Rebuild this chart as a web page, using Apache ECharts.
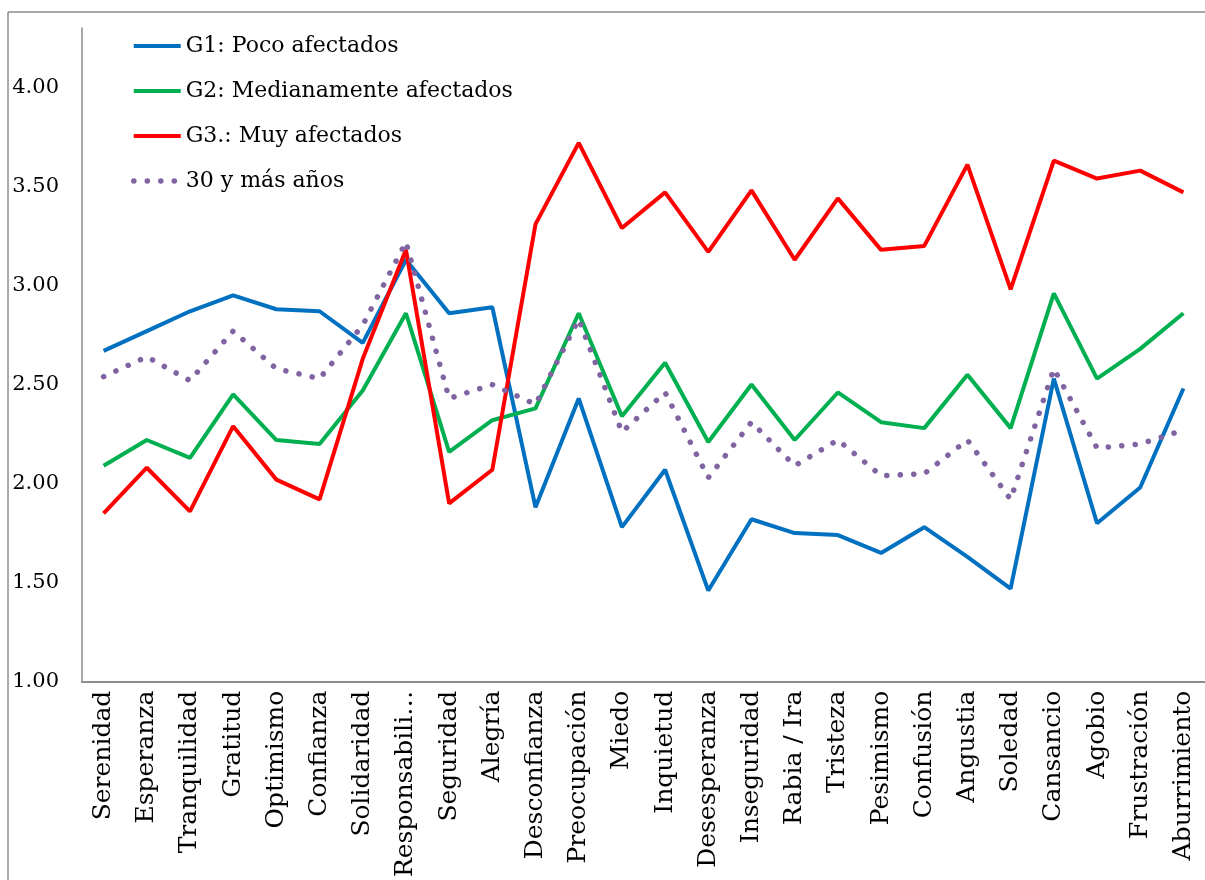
<!DOCTYPE html>
<html>
<head>
<meta charset="utf-8">
<script src="https://cdn.jsdelivr.net/npm/echarts@6/dist/echarts.min.js"></script>
<style>
html,body{margin:0;padding:0;background:#fff;overflow:hidden;}
#chart{width:1205px;height:880px;}
</style>
</head>
<body>
<div id="chart"></div>
<script>
const categories = ["Serenidad","Esperanza","Tranquilidad","Gratitud","Optimismo","Confianza","Solidaridad","Responsabilidad","Seguridad","Alegría","Desconfianza","Preocupación","Miedo","Inquietud","Desesperanza","Inseguridad","Rabia / Ira","Tristeza","Pesimismo","Confusión","Angustia","Soledad","Cansancio","Agobio","Frustración","Aburrimiento"];
const g1 = [2.67,2.77,2.87,2.95,2.88,2.87,2.71,3.13,2.86,2.89,1.88,2.43,1.78,2.07,1.46,1.82,1.75,1.74,1.65,1.78,1.63,1.47,2.53,1.80,1.98,2.48];
const g2 = [2.09,2.22,2.13,2.45,2.22,2.20,2.47,2.86,2.16,2.32,2.38,2.86,2.34,2.61,2.21,2.50,2.22,2.46,2.31,2.28,2.55,2.28,2.96,2.53,2.68,2.86];
const g3 = [1.85,2.08,1.86,2.29,2.02,1.92,2.63,3.18,1.90,2.07,3.31,3.72,3.29,3.47,3.17,3.48,3.13,3.44,3.18,3.20,3.61,2.98,3.63,3.54,3.58,3.47];
const mas30 = [2.54,2.64,2.52,2.77,2.58,2.53,2.80,3.22,2.43,2.50,2.40,2.83,2.26,2.46,2.03,2.31,2.09,2.22,2.04,2.05,2.22,1.92,2.58,2.18,2.20,2.27];
const seriesNames = ["G1: Poco afectados","G2: Medianamente afectados","G3.: Muy afectados","30 y más años"];

const FONT = '"DejaVu Serif", "Liberation Serif", serif';
const chart = echarts.init(document.getElementById('chart'), null, {renderer:'canvas'});
chart.setOption({
  backgroundColor:'#fff',
  animation:false,
  graphic:[
    {type:'line', z:-10, silent:true, shape:{x1:8,y1:12,x2:8,y2:900}, style:{stroke:'#8c8c8c', lineWidth:1.5}},
    {type:'line', z:-10, silent:true, shape:{x1:8,y1:12,x2:1220,y2:12}, style:{stroke:'#8c8c8c', lineWidth:1.5}},
    {type:'rect', z:100, silent:true, shape:{x:1196,y:13,width:12,height:668}, style:{fill:'#fff'}}
  ],
  grid:{show:false, left:82, right:0, top:28, bottom:197, containLabel:false},
  legend:{
    orient:'vertical', left:126, top:30,
    itemWidth:47, itemHeight:14, itemGap:23, itemTextGap:1,
    itemStyle:{opacity:0, borderWidth:0},
    lineStyle:{width:'inherit', type:'inherit', cap:'inherit'},
    textStyle:{fontFamily:FONT, fontSize:22, color:'#000', lineHeight:22},
    data:seriesNames
  },
  xAxis:{
    type:'category', data:categories, boundaryGap:true,
    axisLine:{show:true, lineStyle:{color:'#8c8c8c', width:2}},
    axisTick:{show:false},
    axisLabel:{
      rotate:90, margin:9, interval:0, color:'#000',
      fontFamily:FONT, fontSize:25,
      formatter: v => v.length > 14 ? v.slice(0,12) + '…' : v
    },
    splitLine:{show:false},
    splitArea:{show:false}
  },
  yAxis:{
    type:'value', min:1, max:4.3, interval:0.5,
    axisLine:{show:true, lineStyle:{color:'#8c8c8c', width:1.5}},
    axisTick:{show:false},
    splitLine:{show:false},
    axisLabel:{
      margin:23, color:'#000', fontFamily:FONT, fontSize:21,
      showMaxLabel:false,
      formatter: v => v.toFixed(2)
    }
  },
  series:[
    {name:seriesNames[0], type:'line', data:g1, symbol:'none', lineStyle:{color:'#0070C0', width:4}, itemStyle:{color:'#0070C0'}},
    {name:seriesNames[1], type:'line', data:g2, symbol:'none', lineStyle:{color:'#00B050', width:4}, itemStyle:{color:'#00B050'}},
    {name:seriesNames[2], type:'line', data:g3, symbol:'none', lineStyle:{color:'#FF0000', width:4}, itemStyle:{color:'#FF0000'}},
    {name:seriesNames[3], type:'line', data:mas30, symbol:'none', lineStyle:{color:'#8064A2', width:5.5, type:[0.1,13.4], cap:'round'}, itemStyle:{color:'#8064A2'}}
  ]
});
</script>
</body>
</html>
